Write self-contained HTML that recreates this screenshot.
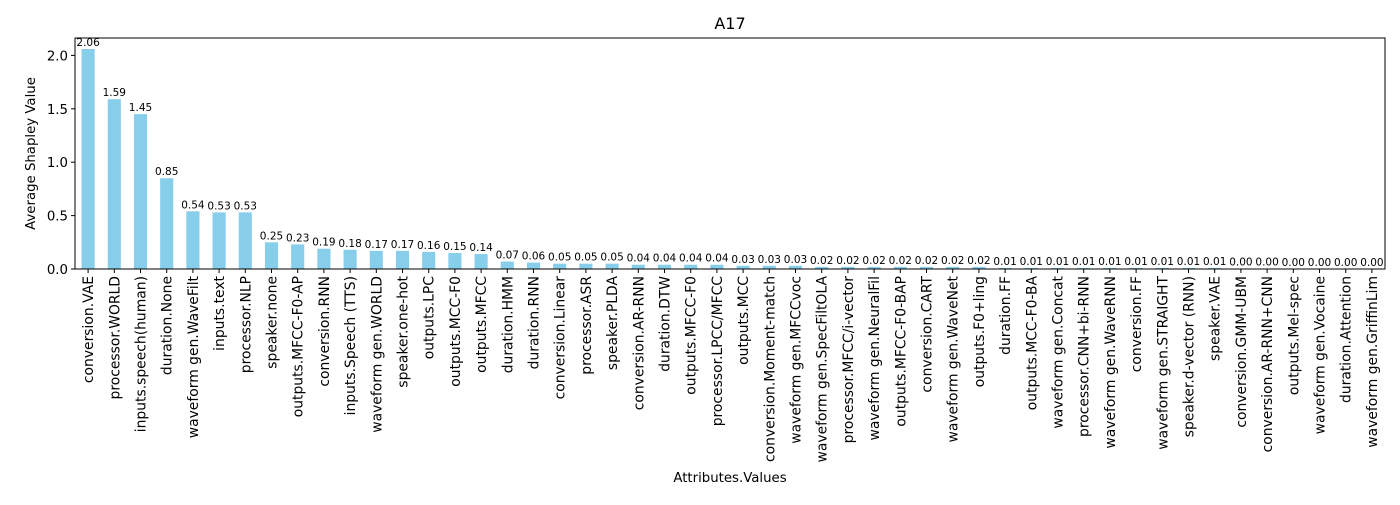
<!DOCTYPE html>
<html><head><meta charset="utf-8"><style>
body{margin:0;background:#fff;}
svg text{font-family:"DejaVu Sans","Liberation Sans",sans-serif;fill:#000;}
</style></head><body>
<svg id="chart" width="1400" height="500" xmlns="http://www.w3.org/2000/svg"></svg>
<script>
const categories = ["conversion.VAE","processor.WORLD","inputs.speech(human)","duration.None","waveform gen.WaveFilt","inputs.text","processor.NLP","speaker.none","outputs.MFCC-F0-AP","conversion.RNN","inputs.Speech (TTS)","waveform gen.WORLD","speaker.one-hot","outputs.LPC","outputs.MCC-F0","outputs.MFCC","duration.HMM","duration.RNN","conversion.Linear","processor.ASR","speaker.PLDA","conversion.AR-RNN","duration.DTW","outputs.MFCC-F0","processor.LPCC/MFCC","outputs.MCC","conversion.Moment-match","waveform gen.MFCCvoc","waveform gen.SpecFiltOLA","processor.MFCC/i-vector","waveform gen.NeuralFil","outputs.MFCC-F0-BAP","conversion.CART","waveform gen.WaveNet","outputs.F0+ling","duration.FF","outputs.MCC-F0-BA","waveform gen.Concat","processor.CNN+bi-RNN","waveform gen.WaveRNN","conversion.FF","waveform gen.STRAIGHT","speaker.d-vector (RNN)","speaker.VAE","conversion.GMM-UBM","conversion.AR-RNN+CNN","outputs.Mel-spec","waveform gen.Vocaine","duration.Attention","waveform gen.GriffinLim"];
const values = [2.06,1.59,1.45,0.85,0.54,0.53,0.53,0.25,0.23,0.19,0.18,0.17,0.17,0.16,0.15,0.14,0.07,0.06,0.05,0.05,0.05,0.04,0.04,0.04,0.04,0.03,0.03,0.03,0.02,0.02,0.02,0.02,0.02,0.02,0.02,0.01,0.01,0.01,0.01,0.01,0.01,0.01,0.01,0.01,0.004,0.003,0.002,0.002,0.001,0.001];
const yTicks = [0,0.5,1.0,1.5,2.0];

const svg = document.getElementById('chart');
const NS = 'http://www.w3.org/2000/svg';
const L=75,R=1385,T=38,B=269;
const yMax = Math.max(...values)*1.05;
const n = categories.length;
const step=(R-L)/n;
const xs = i => L + (i+0.5)*step;
const ys = v => B - v/yMax*(B-T);
function mk(tag, attrs, text){const e=document.createElementNS(NS,tag);for(const k in attrs)e.setAttribute(k,attrs[k]);if(text!==undefined)e.textContent=text;svg.appendChild(e);return e;}

values.forEach((v,i)=>{
  const b=mk('rect',{x:xs(i)-step*0.25,y:ys(v),width:step*0.5,height:B-ys(v),fill:'#87ceeb'});
  
  
  const t=mk('text',{x:xs(i),y:ys(v)-3,'text-anchor':'middle','font-size':'10.5'},v.toFixed(2));
  
  
  mk('line',{x1:xs(i),x2:xs(i),y1:B,y2:B+4,stroke:'#000','stroke-width':1});
  const xl=mk('text',{transform:`translate(${xs(i)+5},${B+7}) rotate(-90)`,'text-anchor':'end','font-size':'13.9'},categories[i]);
  
  
});
yTicks.forEach(v=>{
  mk('line',{x1:L-4,x2:L,y1:ys(v),y2:ys(v),stroke:'#000','stroke-width':1});
  const t=mk('text',{x:L-7,y:ys(v)+5,'text-anchor':'end','font-size':'13.3'},v.toFixed(1));
  
  
});
const frame=mk('rect',{x:L,y:T,width:R-L,height:B-T,fill:'none',stroke:'#000','stroke-width':1});


const title=mk('text',{x:(L+R)/2,y:29,'text-anchor':'middle','font-size':'16'},'A17');


const xt=mk('text',{x:(L+R)/2,y:482,'text-anchor':'middle','font-size':'13.3'},'Attributes.Values');


const yt=mk('text',{transform:`translate(35,${(T+B)/2}) rotate(-90)`,'text-anchor':'middle','font-size':'13.3'},'Average Shapley Value');


</script>
</body></html>
